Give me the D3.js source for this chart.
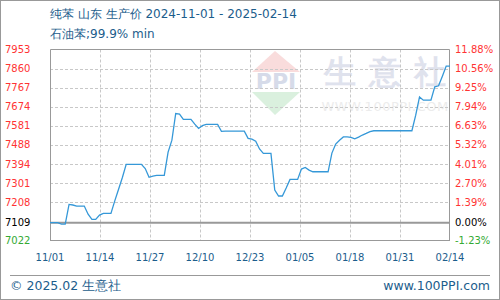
<!DOCTYPE html>
<html><head><meta charset="utf-8">
<script src="https://cdn.jsdelivr.net/npm/d3@7"></script>
<style>
html,body{margin:0;padding:0;background:#fff;}
svg{display:block;}
text{font-family:"DejaVu Sans",Verdana,sans-serif;}
</style></head>
<body>
<svg id="chart" width="500" height="300"></svg>
<script>
// ---- data ----
const title = "纯苯 山东 生产价 2024-11-01 - 2025-02-14";
const subtitle = "石油苯;99.9% min";
const xLabels = ["11/01","11/14","11/27","12/10","12/23","01/05","01/18","01/31","02/14"];
const yTicks = [7022,7109,7208,7301,7394,7488,7581,7674,7767,7860,7953];
const pctLabels = ["-1.23%","0.00%","1.39%","2.70%","4.01%","5.32%","6.63%","7.94%","9.25%","10.56%","11.88%"];
const baseValue = 7109;
const dayCount = 105; // 2024-11-01 .. 2025-02-14
const prices = [
  7109,7109,7109,7102,7102,7198,7195,7190,7190,7190,
  7150,7125,7125,7146,7154,7154,7154,7215,7272,7329,
  7393,7393,7393,7393,7393,7373,7330,7336,7339,7339,
  7339,7453,7511,7641,7638,7612,7612,7612,7589,7568,
  7582,7588,7588,7588,7588,7554,7555,7555,7555,7555,
  7555,7555,7520,7516,7506,7468,7447,7447,7447,7268,
  7239,7239,7278,7320,7320,7320,7370,7378,7365,7357,
  7357,7357,7357,7357,7448,7492,7511,7527,7527,7525,
  7518,7526,7536,7544,7553,7557,7557,7557,7557,7557,
  7557,7557,7557,7557,7557,7557,7633,7722,7706,7706,
  7706,7771,7776,7823,7872,7872
];

// ---- layout ----
const L = 50, R = 450, T = 49.5, B = 240.5;
const svg = d3.select("#chart");
const blue = "#1c5d8c";

const x = d3.scaleLinear().domain([0, dayCount]).range([L, R]);
const y = d3.scaleLinear().domain([yTicks[0], yTicks[yTicks.length-1]]).range([B, T]);
const tickColor = v => v > baseValue ? "#ff3333" : (v < baseValue ? "#33aa33" : "#000");

// outer border
svg.append("rect").attr("x",0.5).attr("y",0.5).attr("width",499).attr("height",299)
  .attr("fill","none").attr("stroke","#999");

// watermark
const wm = svg.append("g");
wm.append("path").attr("d","M275,51 L300,72 L252,72 Z").attr("fill","#f9dcdc");
wm.append("path").attr("d","M252,92 L300,92 L275,115 Z").attr("fill","#daf0de");
wm.append("text").attr("x",276).attr("y",89).attr("text-anchor","middle")
  .attr("font-family","Liberation Serif, serif").attr("font-weight","bold")
  .attr("font-size",22).attr("fill","#d6dbe9").text("PPI");
["生","意","社"].forEach((c,i)=>{
  wm.append("text").attr("x",340+i*45).attr("y",83).attr("text-anchor","middle")
    .attr("font-family","Noto Sans CJK SC, sans-serif").attr("font-weight","bold")
    .attr("font-size",32).attr("fill","#dfe2ed").text(c);
});
wm.append("text").attr("x",385).attr("y",111).attr("text-anchor","middle")
  .attr("font-size",13).attr("fill","#ececec").attr("letter-spacing","0.5").text("WWW.100PPI.COM");

// grid
const xTickVals = xLabels.map((d,i)=> i*dayCount/(xLabels.length-1));
svg.append("g").selectAll("line").data(xTickVals.slice(1,-1)).join("line")
  .attr("x1",d=>Math.round(x(d))+0.5).attr("x2",d=>Math.round(x(d))+0.5)
  .attr("y1",T).attr("y2",B)
  .attr("stroke","#c8c8c8").attr("stroke-dasharray","3,2");
svg.append("g").selectAll("line").data(yTicks.filter(v=>v!==baseValue && v!==yTicks[0] && v!==yTicks[yTicks.length-1])).join("line")
  .attr("x1",L).attr("x2",R)
  .attr("y1",d=>Math.round(y(d))+0.5).attr("y2",d=>Math.round(y(d))+0.5)
  .attr("stroke","#c8c8c8").attr("stroke-dasharray","3,2");

// frame
svg.append("path").attr("d",`M${L+0.5},${B} L${L+0.5},${T} L${R-0.5},${T} L${R-0.5},${B}`)
  .attr("fill","none").attr("stroke","#999");
svg.append("line").attr("x1",L).attr("x2",R).attr("y1",B).attr("y2",B).attr("stroke","#999");
svg.append("line").attr("x1",L).attr("x2",R).attr("y1",y(baseValue)).attr("y2",y(baseValue))
  .attr("stroke","#999").attr("stroke-width",2);

// left axis labels
svg.append("g").selectAll("text").data(yTicks).join("text")
  .attr("x",5).attr("y",d=>y(d)).attr("dy","0.35em")
  .attr("font-family","DejaVu Sans Mono, monospace").attr("font-size",10)
  .attr("fill",d=>tickColor(d)).text(d=>d);
// right axis labels
svg.append("g").selectAll("text").data(yTicks).join("text")
  .attr("x",455).attr("y",d=>y(d)).attr("dy","0.35em")
  .attr("font-family","DejaVu Sans Mono, monospace").attr("font-size",10)
  .attr("fill",d=>tickColor(d)).text((d,i)=>pctLabels[i]);

// x labels
svg.append("g").selectAll("text").data(xTickVals).join("text")
  .attr("x",d=>x(d)).attr("y",261).attr("text-anchor","middle")
  .attr("font-family","DejaVu Sans Mono, monospace").attr("font-size",10)
  .attr("fill",blue).text((d,i)=>xLabels[i]);

// line
const line = d3.line().x((d,i)=>x(i)).y(d=>y(d));
svg.append("path").datum(prices).attr("d",line)
  .attr("fill","none").attr("stroke","#3598d8").attr("stroke-width",1.3);

// titles
svg.append("text").attr("x",50).attr("y",18).attr("font-size",12).attr("fill",blue).text(title);
svg.append("text").attr("x",50).attr("y",38).attr("font-size",12).attr("fill",blue).text(subtitle);

// footer
svg.append("line").attr("x1",10).attr("x2",490).attr("y1",275.5).attr("y2",275.5).attr("stroke","#999");
svg.append("text").attr("x",10).attr("y",290).attr("font-size",12.5).attr("fill",blue).text("© 2025.02 生意社");
svg.append("text").attr("x",490).attr("y",290).attr("text-anchor","end").attr("font-size",12.5).attr("fill",blue).text("www.100PPI.com");
</script>
</body></html>
